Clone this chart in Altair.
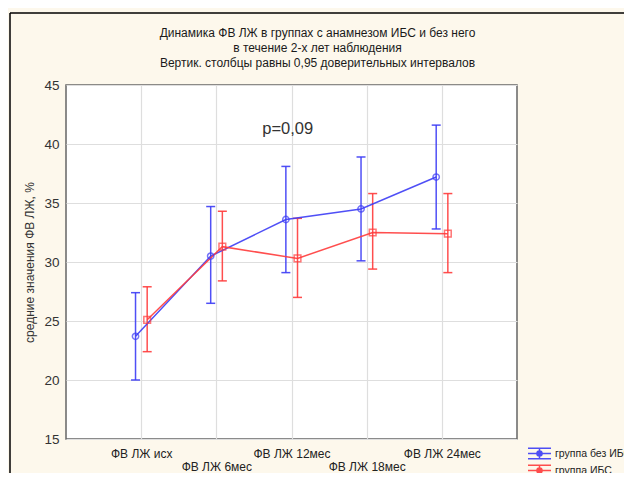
import json
import altair as alt
import pandas as pd

# ---- data ----
labels = ["ФВ ЛЖ исх", "ФВ ЛЖ 6мес", "ФВ ЛЖ 12мес", "ФВ ЛЖ 18мес", "ФВ ЛЖ 24мес"]
groups = ["группа без ИБС", "группа ИБС"]
blue_mean = [23.7, 30.5, 33.6, 34.5, 37.2]
blue_low = [20.0, 26.5, 29.1, 30.1, 32.8]
blue_high = [27.4, 34.7, 38.1, 38.9, 41.6]
red_mean = [25.1, 31.3, 30.3, 32.5, 32.4]
red_low = [22.4, 28.4, 27.0, 29.4, 29.1]
red_high = [27.9, 34.3, 33.7, 35.8, 35.8]
offsets = [-0.075, 0.08]
p_text = ["p=0,09"]
p_x = [2.95]
p_y = [41.23]

rows = []
for g, off, m, lo, hi in zip(groups, offsets, [blue_mean, red_mean],
                             [blue_low, red_low], [blue_high, red_high]):
    for i in range(len(labels)):
        rows.append({"group": g, "pos": i + 1 + off, "mean": m[i],
                     "low": lo[i], "high": hi[i]})
df = pd.DataFrame(rows)

FONT = "Liberation Sans"
BLUE = "#3c3cf5"
RED = "#ff3b3b"

xscale = alt.Scale(domain=[0, 6], nice=False, zero=False)
yscale = alt.Scale(domain=[15, 45], nice=False, zero=False)

L = json.dumps(labels, ensure_ascii=False)
label_expr = ("round(datum.value) % 2 == 0 ? ['', " + L + "[round(datum.value) - 1]] : "
              + L + "[round(datum.value) - 1]")
x_axis = alt.Axis(values=[1, 2, 3, 4, 5], labelExpr=label_expr, title=None,
                  grid=True, gridColor="#dedede", gridWidth=1.2,
                  ticks=False, domain=False, labelFontSize=12, labelColor="#222",
                  labelFont=FONT, labelFlush=False, labelOverlap=False,
                  labelPadding=9, labelLineHeight=13)
y_axis = alt.Axis(values=[15, 20, 25, 30, 35, 40, 45], title="средние значения ФВ ЛЖ, %",
                  grid=True, gridColor="#dedede", gridWidth=1.2, ticks=False, domain=False,
                  labelFontSize=13.5, labelColor="#333", labelFont=FONT, labelPadding=7,
                  titleFont=FONT, titleFontSize=12, titleFontWeight="normal",
                  titleColor="#333", titlePadding=7)

sym_path = ("M-2,-0.9H2M-2,0H2M-2,0.9H2M0,-0.9V0.9"
            "M0.45,0A0.45,0.45 0 1,1 -0.45,0A0.45,0.45 0 1,1 0.45,0")
legend = alt.Legend(title=None, orient="none", legendX=467, legendY=362,
                    symbolType=sym_path, symbolSize=132, symbolStrokeWidth=1.5,
                    symbolFillColor="transparent",
                    labelFontSize=10.5, labelFont=FONT,
                    labelColor="#222", labelOffset=9, rowPadding=0)
color = alt.Color("group:N", scale=alt.Scale(domain=groups, range=[BLUE, RED]), legend=legend)

X = alt.X("pos:Q", scale=xscale, axis=x_axis)

base = alt.Chart(df)
line = base.mark_line(strokeWidth=1.5, opacity=0.9).encode(
    x=X, y=alt.Y("mean:Q", scale=yscale, axis=y_axis), color=color, detail="group:N")
bars = base.mark_rule(strokeWidth=1.5, opacity=0.9).encode(
    x=X, y=alt.Y("low:Q", scale=yscale, axis=y_axis), y2="high:Q", color=color)
cap_lo = base.mark_tick(orient="horizontal", size=9, thickness=1.5, opacity=0.9).encode(
    x=X, y=alt.Y("low:Q", scale=yscale, axis=y_axis), color=color)
cap_hi = base.mark_tick(orient="horizontal", size=9, thickness=1.5, opacity=0.9).encode(
    x=X, y=alt.Y("high:Q", scale=yscale, axis=y_axis), color=color)
pts_b = base.transform_filter(alt.datum.group == groups[0]).mark_point(
    shape="circle", filled=False, size=40, strokeWidth=1.5).encode(
    x=X, y=alt.Y("mean:Q", scale=yscale, axis=y_axis), color=color)
pts_r = base.transform_filter(alt.datum.group == groups[1]).mark_point(
    shape="square", filled=False, size=45, strokeWidth=1.5).encode(
    x=X, y=alt.Y("mean:Q", scale=yscale, axis=y_axis), color=color)

ptxt = alt.Chart(pd.DataFrame({"pos": p_x, "mean": p_y, "t": p_text})).mark_text(
    fontSize=16.5, color="#333", font=FONT).encode(
    x=X, y=alt.Y("mean:Q", scale=yscale, axis=y_axis), text="t:N")

one = alt.Chart(pd.DataFrame({"a": [0]}))
border_top = one.mark_rule(color="black", strokeWidth=1.5).encode(
    x=alt.value(-56), x2=alt.value(560), y=alt.value(-72))
border_left = one.mark_rule(color="black", strokeWidth=1.5).encode(
    x=alt.value(-56), y=alt.value(-72), y2=alt.value(400))

chart = alt.layer(bars, cap_lo, cap_hi, line, pts_b, pts_r, ptxt, border_top, border_left).properties(
    width=451, height=354,
    autosize=alt.AutoSizeParams(type="none"),
    padding={"left": 58, "top": 77, "right": 107, "bottom": 34},
    background="#fdf8ec",
    title=alt.TitleParams(
        text=["Динамика ФВ ЛЖ в группах с анамнезом ИБС и без него",
              "в течение  2-х лет наблюдения"],
        subtitle="Вертик. столбцы равны 0,95 доверительных интервалов",
        font=FONT, subtitleFont=FONT, fontSize=12, subtitleFontSize=12,
        fontWeight="normal", color="#1a1a1a", subtitleColor="#1a1a1a",
        lineHeight=15, subtitlePadding=3, offset=14, dy=72, dx=26, anchor="middle"),
).configure_view(fill="white", stroke="#666", strokeWidth=1.5)

chart.save("out.html", embed_options={"renderer": "svg", "actions": False})
